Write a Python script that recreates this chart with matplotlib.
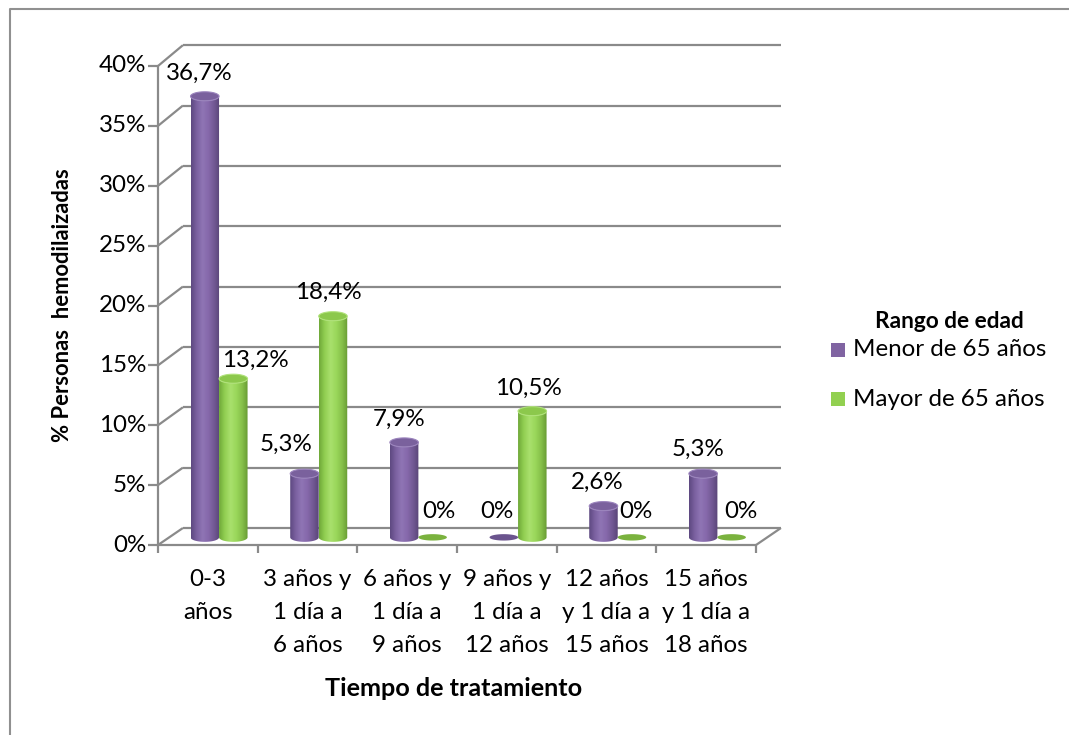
import numpy as np
import matplotlib
matplotlib.use("Agg")
import matplotlib.pyplot as plt
from matplotlib.patches import Polygon, Rectangle
from matplotlib.lines import Line2D
from matplotlib.colors import LinearSegmentedColormap

# ---- data -------------------------------------------------------------
categories = [
    "0-3\naños",
    "3 años y\n1 día a\n6 años",
    "6 años y\n1 día a\n9 años",
    "9 años y\n1 día a\n12 años",
    "12 años\ny 1 día a\n15 años",
    "15 años\ny 1 día a\n18 años",
]
menor_65 = [36.7, 5.3, 7.9, 0.0, 2.6, 5.3]
mayor_65 = [13.2, 18.4, 0.0, 10.5, 0.0, 0.0]
series_names = ["Menor de 65 años", "Mayor de 65 años"]
y_ticks = [0, 5, 10, 15, 20, 25, 30, 35, 40]
y_tick_labels = [f"{t}%" for t in y_ticks]
x_title = "Tiempo de tratamiento"
y_title = "% Personas  hemodilaizadas"
legend_title = "Rango de edad"

# label offsets (pixels, right / up) so the value texts do not collide
menor_label_off = [(-6, 23), (-18, 29), (-5, 23), (-7, 26), (-6, 24), (-5, 24)]
mayor_label_off = [(22, 18), (-5, 24), (6, 26), (-4, 23), (4, 26), (9, 26)]

# ---- figure / scales ----------------------------------------------------
W, H = 1069, 735
fig = plt.figure(figsize=(W / 100, H / 100), dpi=100)
ax = fig.add_axes([0, 0, 1, 1])
PX_CAT, PX_PCT = 99.67, 11.975
X0, Y0 = 158, 545
ax.set_xlim(-X0 / PX_CAT, (W - X0) / PX_CAT)
ax.set_ylim(-(H - Y0) / PX_PCT, Y0 / PX_PCT)
ax.axis("off")

FONT = "Lato"
FS = 17.4
GRID = "#8a8a8a"

DEPTH_X, DEPTH_Y, PERSP = 0.25, 1.42, 0.008


def proj(x, p, d):
    """Oblique projection of (category, percent, depth) onto the axes."""
    return x + d * DEPTH_X, p * (1 + d * PERSP) + d * DEPTH_Y


def px(xp, yp):
    """Pixel position to data coordinates."""
    return (xp - X0) / PX_CAT, (Y0 - yp) / PX_PCT


def seg(p0, p1, **kw):
    ax.add_line(Line2D([p0[0], p1[0]], [p0[1], p1[1]], color=GRID,
                       lw=1.6, solid_capstyle="butt", zorder=1, **kw))


n = len(categories)
# back wall and side wall gridlines
for t in y_ticks:
    seg(proj(0, t, 1), proj(n, t, 1))
    seg(proj(0, t, 0), proj(0, t, 1))
# floor right edge, front axes, ticks
seg(proj(n, 0, 0), proj(n, 0, 1))
seg(proj(0, 0, 0), proj(0, 40, 0))
seg(proj(0, 0, 0), proj(n, 0, 0))
for t, lab in zip(y_ticks, y_tick_labels):
    seg((-10 / PX_CAT, t), (0, t))
    ax.text(-12 / PX_CAT, t, lab, ha="right", va="center",
            fontsize=FS, family=FONT, color="black")
for i in range(n + 1):
    seg((i, 0), (i, -8 / PX_PCT))
for i, c in enumerate(categories):
    ax.text(i + 0.5, px(0, 569)[1], c, ha="center", va="top",
            multialignment="center", fontsize=FS, family=FONT,
            linespacing=1.72)

# ---- cylinders ------------------------------------------------------------
BAR_DEPTH = 0.45
HALF_W = 0.143
ELL_B = 4.5 / PX_PCT

styles = [
    dict(body=["#5d4880", "#7b61a0", "#8f75b5", "#8669ab", "#725994", "#594577"],
         top="#7a619d", rim="#9b84bd", flat="#6b548e"),
    dict(body=["#6fa838", "#92cf52", "#a9e06d", "#9ad75b", "#86c04a", "#679a33"],
         top="#8cc84c", rim="#b0e27a", flat="#7ab23e"),
]

theta_low = np.linspace(np.pi, 2 * np.pi, 60)
theta_all = np.linspace(0, 2 * np.pi, 120)


def cylinder(cx_front, value, st, label_off):
    cx, base = proj(cx_front, 0, BAR_DEPTH)
    top = base + value * (1 + BAR_DEPTH * PERSP)
    if value <= 0:
        b = 3.2 / PX_PCT
        pts = np.c_[cx + HALF_W * np.cos(theta_all), base + b * np.sin(theta_all)]
        ax.add_patch(Polygon(pts, closed=True, fc=st["flat"], ec="none", zorder=3))
    else:
        bottom = np.c_[cx + HALF_W * np.cos(theta_low), base + ELL_B * np.sin(theta_low)]
        topl = np.c_[cx + HALF_W * np.cos(theta_low[::-1]), top + ELL_B * np.sin(theta_low[::-1])]
        body = Polygon(np.vstack([bottom, topl]), closed=True, fc="none",
                       ec="none", zorder=3)
        ax.add_patch(body)
        cmap = LinearSegmentedColormap.from_list("b", st["body"])
        grad = np.linspace(0, 1, 256)[None, :]
        im = ax.imshow(grad, cmap=cmap, aspect="auto", interpolation="bilinear",
                       extent=[cx - HALF_W, cx + HALF_W, base - ELL_B, top + ELL_B],
                       zorder=3)
        im.set_clip_path(body)
        cap = np.c_[cx + HALF_W * np.cos(theta_all), top + ELL_B * np.sin(theta_all)]
        ax.add_patch(Polygon(cap, closed=True, fc=st["top"], ec=st["rim"],
                             lw=0.8, zorder=4))
    txt = "0%" if value == 0 else f"{value:.1f}%".replace(".", ",")
    ax.annotate(txt, (cx, top), xytext=(label_off[0] * 0.72, label_off[1] * 0.72),
                textcoords="offset points", ha="center", va="center",
                fontsize=FS, family=FONT, zorder=5)


for i in range(n):
    cylinder(i + 0.5 - HALF_W, menor_65[i], styles[0], menor_label_off[i])
    cylinder(i + 0.5 + HALF_W, mayor_65[i], styles[1], mayor_label_off[i])

# ---- titles -----------------------------------------------------------------
ax.text(*px(454, 688), x_title, ha="center", va="center", fontsize=18.2,
        family=FONT, fontweight="bold")
ax.text(*px(62, 305), y_title, ha="center", va="center", rotation=90,
        fontsize=15.8, family=FONT, fontweight="bold")

# ---- legend -------------------------------------------------------------------
ax.text(*px(949, 322), legend_title, ha="center", va="center", fontsize=16.3,
        family=FONT, fontweight="bold")
for name, col, yy in zip(series_names, ["#8064a2", "#92d050"], [350, 399]):
    x0, y0 = px(831, yy + 7)
    ax.add_patch(Rectangle((x0, y0), 14 / PX_CAT, 14 / PX_PCT, fc=col, ec="none"))
    ax.text(*px(853, yy), name, ha="left", va="center", fontsize=FS, family=FONT)

# ---- outer frame ----------------------------------------------------------------
fx = [10, 10, W]
fy = [H, 9, 9]
ax.add_line(Line2D([px(a, b)[0] for a, b in zip(fx, fy)],
                   [px(a, b)[1] for a, b in zip(fx, fy)],
                   color="#909090", lw=1.5))

ax.set_xlim(-X0 / PX_CAT, (W - X0) / PX_CAT)
ax.set_ylim(-(H - Y0) / PX_PCT, Y0 / PX_PCT)
fig.savefig("out.png", dpi=100)
